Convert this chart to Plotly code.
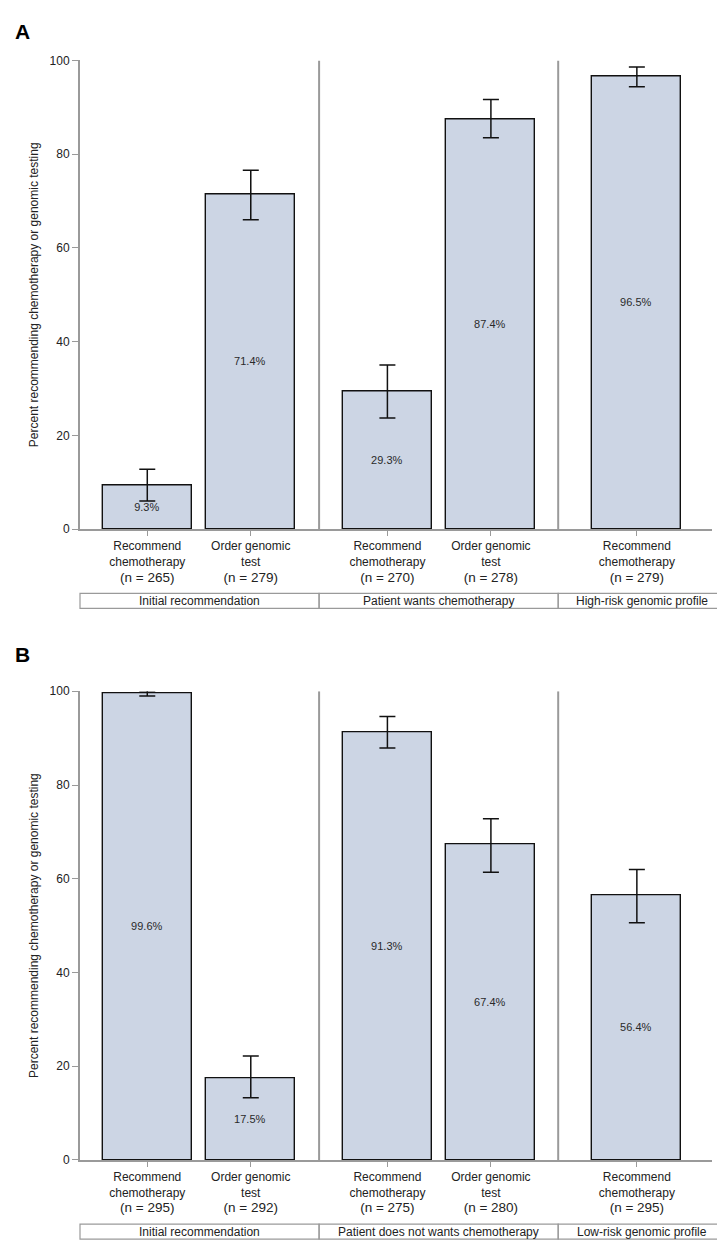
import plotly.graph_objects as go
from plotly.subplots import make_subplots

# ---- data ----
categories = [
    "Recommend<br>chemotherapy",
    "Order genomic<br>test",
    "Recommend<br>chemotherapy",
    "Order genomic<br>test",
    "Recommend<br>chemotherapy",
]

a_n = [265, 279, 270, 278, 279]
a_pct = [9.3, 71.4, 29.3, 87.4, 96.5]
a_low = [6.0, 66.0, 23.7, 83.5, 94.4]
a_high = [12.8, 76.6, 35.0, 91.7, 98.6]
a_groups = ["Initial recommendation", "Patient wants chemotherapy", "High-risk genomic profile"]

b_n = [295, 292, 275, 280, 295]
b_pct = [99.6, 17.5, 91.3, 67.4, 56.4]
b_low = [99.0, 13.3, 87.9, 61.4, 50.6]
b_high = [100.1, 22.2, 94.6, 72.8, 62.0]
b_groups = ["Initial recommendation", "Patient does not wants chemotherapy", "Low-risk genomic profile"]

# ---- layout constants ----
W, H = 725, 1243
FONT = "Liberation Sans, Arial, Helvetica, sans-serif"
BAR_FILL = "#ccd5e4"
GRAY = "#9a9a9a"

bar_x = [0.65, 1.65, 2.97, 3.97, 5.38]
x_max = 6.106
group_spans = [(0, 2.31), (2.31, 4.62), (4.62, 6.23)]
separators = [2.31, 4.62]

x_dom = [72 / W, 704 / W]
y_doms = [[1 - 520 / H, 1 - 46 / H], [1 - 1158 / H, 1 - 684 / H]]
tag_y = [17, 647]

panels = [
    ("A", a_pct, a_low, a_high, a_n, a_groups),
    ("B", b_pct, b_low, b_high, b_n, b_groups),
]

fig = make_subplots(rows=2, cols=1)

for row, (tag, pct, low, high, n, groups) in enumerate(panels, start=1):
    fig.add_trace(
        go.Bar(
            x=bar_x,
            y=pct,
            width=0.86,
            marker=dict(color=BAR_FILL, line=dict(color="#111", width=1.4)),
            error_y=dict(
                type="data",
                symmetric=False,
                array=[h - p for h, p in zip(high, pct)],
                arrayminus=[p - l for p, l in zip(pct, low)],
                color="#111",
                thickness=1.5,
                width=8,
            ),
            text=[f"{v}%" for v in pct],
            textposition="inside",
            insidetextanchor="middle",
            textangle=0,
            textfont=dict(size=11, color="#2a2a2a"),
            showlegend=False,
            hoverinfo="skip",
        ),
        row=row,
        col=1,
    )

    sfx = "" if row == 1 else str(row)
    xa, ya = "x" + sfx, "y" + sfx

    ticktext = [f"{c}<br><span style='font-size:13.5px'>(n = {k})</span>" for c, k in zip(categories, n)]
    fig.update_xaxes(
        domain=x_dom,
        range=[0, x_max],
        tickvals=bar_x,
        ticktext=ticktext,
        ticks="outside",
        ticklen=5,
        tickcolor=GRAY,
        tickwidth=1.2,
        showline=True,
        linecolor=GRAY,
        linewidth=1.6,
        showgrid=False,
        zeroline=False,
        tickfont=dict(size=12, color="#222"),
        row=row,
        col=1,
    )
    fig.update_yaxes(
        domain=y_doms[row - 1],
        range=[0, 100],
        tickvals=[0, 20, 40, 60, 80, 100],
        ticks="outside",
        ticklen=6,
        tickcolor=GRAY,
        tickwidth=1.2,
        showline=True,
        linecolor=GRAY,
        linewidth=2,
        showgrid=False,
        zeroline=False,
        tickfont=dict(size=12, color="#222"),
        title=dict(
            text="Percent recommending chemotherapy or genomic testing",
            font=dict(size=12, color="#222"),
            standoff=8,
        ),
        row=row,
        col=1,
    )

    for s in separators:
        fig.add_shape(
            type="line", xref=xa, yref=ya, x0=s, x1=s, y0=0, y1=100,
            line=dict(color=GRAY, width=2),
        )

    for (g0, g1), label in zip(group_spans, groups):
        fig.add_shape(
            type="rect", xref=xa + " domain", yref=ya + " domain",
            x0=g0 / x_max, x1=g1 / x_max, y0=-0.169, y1=-0.137,
            line=dict(color=GRAY, width=1.2), fillcolor="rgba(0,0,0,0)",
        )
        fig.add_annotation(
            xref=xa + " domain", yref=ya + " domain",
            x=(g0 + g1) / 2 / x_max, y=-0.153,
            text=label, showarrow=False,
            font=dict(size=12, color="#222"),
            xanchor="center", yanchor="middle",
        )

    fig.add_annotation(
        xref="paper", yref="paper",
        x=5 / W, y=1 - tag_y[row - 1] / H,
        text=f"<b>{tag}</b>", showarrow=False,
        font=dict(size=21, color="#000"),
        xanchor="left", yanchor="middle",
    )

fig.update_layout(
    width=W,
    height=H,
    margin=dict(l=0, r=0, t=0, b=0),
    plot_bgcolor="white",
    paper_bgcolor="white",
    font=dict(family=FONT, color="#222"),
    bargap=0,
)

fig.write_html("out.html")
